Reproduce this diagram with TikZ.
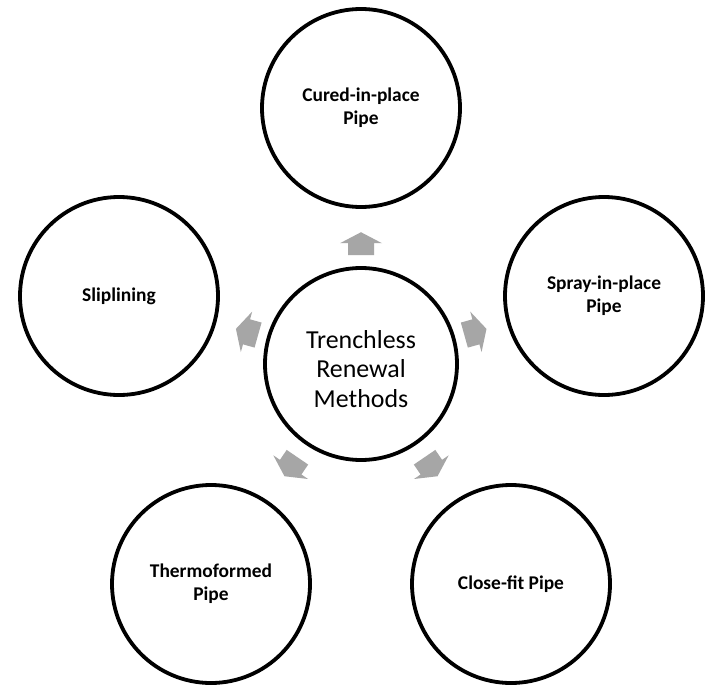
\documentclass[tikz,border=0pt]{standalone}
\usepackage{fontspec}
\setmainfont{Carlito}
\usetikzlibrary{decorations.markings}
\definecolor{spokegray}{HTML}{A6A6A6}
\begin{document}
\begin{tikzpicture}[x=1bp,y=-1bp,
  hub/.style={circle, draw=black, line width=3.8bp, minimum size=192bp,
    inner sep=0pt},
  hubtext/.style={align=center, yshift=-5bp, font=\fontsize{26}{29.5}\selectfont},
  method/.style={circle, draw=black, line width=3.8bp, minimum size=198bp,
    inner sep=0pt, align=center, font=\bfseries\fontsize{19.5}{23}\selectfont},
  spoke/.style={postaction={decorate}, decoration={markings,
    mark=at position 0.4 with {\fill[spokegray]
      (-12,-13) -- (0,-13) -- (0,-21) -- (11,0) -- (0,21) -- (0,13) -- (-12,13) -- cycle;}}}
]
% page
\fill[white] (0,0) rectangle (706,688);
\useasboundingbox (0,0) rectangle (706,688);

% hub and the five methods
\node[hub, label={[hubtext]center:Trenchless\\Renewal\\Methods}] (c) at (361,364) {};
\node[method] (top)   at (361,108) {Cured-in-place\\Pipe};
\node[method] (left)  at (119,296) {Sliplining};
\node[method] (right) at (604,296) {Spray-in-place\\Pipe};
\node[method] (bl)    at (211,584) {Thermoformed\\Pipe};
\node[method] (br)    at (511,584) {Close-fit Pipe};

% block arrows pointing outward from the hub
\foreach \t in {top,left,right,bl,br}
  \path[spoke] (c) -- (\t);
\end{tikzpicture}
\end{document}
